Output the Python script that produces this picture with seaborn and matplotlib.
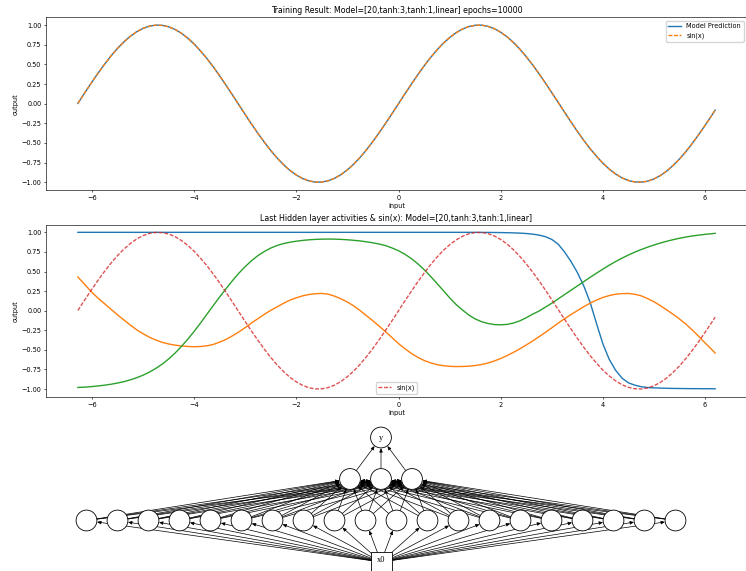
import matplotlib
matplotlib.use("Agg")
import matplotlib.pyplot as plt
import seaborn as sns
from matplotlib.patches import Circle, Rectangle

# ---------------- data ----------------
x_vals = [-6.28, -6.125, -6.0, -5.875, -5.75, -5.625, -5.5, -5.375, -5.25, -5.125,
          -5.0, -4.875, -4.75, -4.625, -4.5, -4.375, -4.25, -4.125, -4.0, -3.875,
          -3.75, -3.625, -3.5, -3.375, -3.25, -3.125, -3.0, -2.875, -2.75, -2.625,
          -2.5, -2.375, -2.25, -2.125, -2.0, -1.875, -1.75, -1.625, -1.5, -1.375,
          -1.25, -1.125, -1.0, -0.875, -0.75, -0.625, -0.5, -0.375, -0.25, -0.125,
          0.0, 0.125, 0.25, 0.375, 0.5, 0.625, 0.75, 0.875, 1.0, 1.125,
          1.25, 1.375, 1.5, 1.625, 1.75, 1.875, 2.0, 2.125, 2.25, 2.375,
          2.5, 2.625, 2.75, 2.875, 3.0, 3.125, 3.25, 3.375, 3.5, 3.625,
          3.75, 3.875, 4.0, 4.125, 4.25, 4.375, 4.5, 4.625, 4.75, 4.875,
          5.0, 5.125, 5.25, 5.375, 5.5, 5.625, 5.75, 5.875, 6.0, 6.125,
          6.2]

sin_vals = [0.003, 0.158, 0.279, 0.397, 0.508, 0.612, 0.706, 0.788, 0.859, 0.916,
            0.959, 0.987, 0.999, 0.996, 0.978, 0.944, 0.895, 0.832, 0.757, 0.668,
            0.572, 0.465, 0.351, 0.231, 0.108, -0.017, -0.141, -0.264, -0.382, -0.494,
            -0.598, -0.694, -0.778, -0.851, -0.909, -0.954, -0.984, -0.999, -0.997, -0.981,
            -0.949, -0.902, -0.841, -0.768, -0.682, -0.585, -0.479, -0.366, -0.247, -0.125,
            0.000, 0.125, 0.247, 0.366, 0.479, 0.585, 0.682, 0.768, 0.841, 0.902,
            0.949, 0.981, 0.997, 0.999, 0.984, 0.954, 0.909, 0.851, 0.778, 0.694,
            0.598, 0.494, 0.382, 0.264, 0.141, 0.017, -0.108, -0.231, -0.351, -0.465,
            -0.572, -0.668, -0.757, -0.832, -0.895, -0.944, -0.978, -0.996, -0.999, -0.987,
            -0.959, -0.916, -0.859, -0.788, -0.706, -0.612, -0.508, -0.397, -0.279, -0.158,
            -0.083]

prediction = [0.003, 0.158, 0.279, 0.397, 0.508, 0.612, 0.706, 0.788, 0.859, 0.916,
              0.959, 0.987, 0.999, 0.996, 0.978, 0.944, 0.895, 0.832, 0.757, 0.668,
              0.572, 0.465, 0.351, 0.231, 0.108, -0.017, -0.141, -0.264, -0.382, -0.494,
              -0.598, -0.694, -0.778, -0.851, -0.909, -0.954, -0.984, -0.999, -0.997, -0.981,
              -0.949, -0.902, -0.841, -0.768, -0.682, -0.585, -0.479, -0.366, -0.247, -0.125,
              0.000, 0.125, 0.247, 0.366, 0.479, 0.585, 0.682, 0.768, 0.841, 0.902,
              0.949, 0.981, 0.997, 0.999, 0.984, 0.954, 0.909, 0.851, 0.778, 0.694,
              0.598, 0.494, 0.382, 0.264, 0.141, 0.017, -0.108, -0.231, -0.351, -0.465,
              -0.572, -0.668, -0.757, -0.832, -0.895, -0.944, -0.978, -0.996, -0.999, -0.987,
              -0.959, -0.916, -0.859, -0.788, -0.706, -0.612, -0.508, -0.397, -0.279, -0.158,
              -0.083]

hidden_1 = [1.0, 1.0, 1.0, 1.0, 1.0, 1.0, 1.0, 1.0, 1.0, 1.0,
            1.0, 1.0, 1.0, 1.0, 1.0, 1.0, 1.0, 1.0, 1.0, 1.0,
            1.0, 1.0, 1.0, 1.0, 1.0, 1.0, 1.0, 1.0, 1.0, 1.0,
            1.0, 1.0, 1.0, 1.0, 1.0, 1.0, 1.0, 1.0, 1.0, 1.0,
            1.0, 1.0, 1.0, 1.0, 1.0, 1.0, 1.0, 1.0, 1.0, 1.0,
            1.0, 1.0, 1.0, 1.0, 1.0, 1.0, 1.0, 1.0, 1.0, 1.0,
            1.0, 1.0, 1.0, 0.999, 0.999, 0.998, 0.997, 0.995, 0.993, 0.990,
            0.985, 0.977, 0.965, 0.945, 0.91, 0.85, 0.75, 0.63, 0.49, 0.32,
            0.11, -0.16, -0.42, -0.62, -0.76, -0.86, -0.92, -0.95, -0.97, -0.98,
            -0.985, -0.988, -0.99, -0.992, -0.993, -0.994, -0.995, -0.995, -0.996, -0.996,
            -0.997]

hidden_2 = [0.43, 0.32, 0.23, 0.155, 0.085, 0.015, -0.055, -0.12, -0.185, -0.245,
            -0.295, -0.34, -0.375, -0.405, -0.425, -0.44, -0.45, -0.457, -0.46, -0.457,
            -0.448, -0.43, -0.40, -0.365, -0.32, -0.27, -0.215, -0.155, -0.10, -0.045,
            0.005, 0.05, 0.095, 0.135, 0.165, 0.19, 0.207, 0.217, 0.22, 0.21,
            0.185, 0.15, 0.11, 0.06, 0.0, -0.065, -0.13, -0.2, -0.27, -0.345,
            -0.42, -0.485, -0.545, -0.595, -0.635, -0.665, -0.688, -0.702, -0.71, -0.713,
            -0.712, -0.708, -0.70, -0.687, -0.668, -0.642, -0.61, -0.573, -0.532, -0.487,
            -0.438, -0.387, -0.333, -0.277, -0.219, -0.16, -0.103, -0.05, 0.0, 0.05,
            0.095, 0.135, 0.168, 0.193, 0.21, 0.218, 0.22, 0.21, 0.19, 0.155,
            0.115, 0.065, 0.01, -0.045, -0.105, -0.17, -0.245, -0.325, -0.41, -0.49,
            -0.54]

hidden_3 = [-0.98, -0.975, -0.968, -0.96, -0.95, -0.938, -0.923, -0.905, -0.882, -0.855,
            -0.822, -0.782, -0.735, -0.68, -0.615, -0.54, -0.455, -0.362, -0.262, -0.155,
            -0.043, 0.068, 0.178, 0.283, 0.385, 0.48, 0.565, 0.64, 0.705, 0.757,
            0.80, 0.833, 0.857, 0.874, 0.887, 0.897, 0.905, 0.91, 0.913, 0.914,
            0.913, 0.91, 0.905, 0.898, 0.89, 0.879, 0.866, 0.85, 0.83, 0.80,
            0.765, 0.72, 0.665, 0.60, 0.525, 0.44, 0.35, 0.258, 0.165, 0.08,
            0.01, -0.055, -0.105, -0.14, -0.163, -0.177, -0.18, -0.175, -0.158, -0.13,
            -0.09, -0.045, -0.005, 0.045, 0.095, 0.15, 0.205, 0.26, 0.315, 0.37,
            0.425, 0.478, 0.53, 0.58, 0.627, 0.67, 0.71, 0.747, 0.78, 0.81,
            0.838, 0.863, 0.886, 0.906, 0.924, 0.94, 0.953, 0.964, 0.974, 0.982,
            0.987]

title_top = "Training Result: Model=[20,tanh:3,tanh:1,linear] epochs=10000"
title_mid = "Last Hidden layer activities & sin(x): Model=[20,tanh:3,tanh:1,linear]"

layer_sizes = [1, 20, 3, 1]
input_label = "x0"
output_label = "y"

# ---------------- style ----------------
plt.rcParams.update({
    "font.family": ["DejaVu Sans"],
    "font.size": 4.7,
    "axes.titlesize": 5.7,
    "axes.labelsize": 4.7,
    "xtick.labelsize": 4.7,
    "ytick.labelsize": 4.7,
    "legend.fontsize": 4.7,
    "axes.linewidth": 0.45,
    "xtick.major.size": 1.7,
    "ytick.major.size": 1.7,
    "xtick.major.width": 0.45,
    "ytick.major.width": 0.45,
    "xtick.major.pad": 1.7,
    "ytick.major.pad": 1.7,
    "axes.titlepad": 2.8,
    "axes.labelpad": 1.9,
    "legend.borderaxespad": 0.5,
    "legend.frameon": True,
    "lines.dashed_pattern": [2.8, 1.2],
})

W, H = 746, 571
fig = plt.figure(figsize=(W / 100, H / 100), dpi=100)

ax1 = fig.add_axes([46 / W, 1 - 190 / H, 701 / W, 172.7 / H])
ax2 = fig.add_axes([46 / W, 1 - 396.8 / H, 701 / W, 172.3 / H])

lw = 1.0
blue, orange, green, red = "#1f77b4", "#ff7f0e", "#2ca02c", "#d62728"

# top panel
sns.lineplot(x=x_vals, y=prediction, ax=ax1, color=blue, linewidth=lw,
             label="Model Prediction")
sns.lineplot(x=x_vals, y=sin_vals, ax=ax1, color=orange, linewidth=lw,
             linestyle="--", label="sin(x)")
ax1.legend(loc="upper right")
ax1.set_title(title_top)
ax1.set_xlabel("input")
ax1.set_ylabel("output")

# middle panel
for vals, col in [(hidden_1, blue), (hidden_2, orange), (hidden_3, green)]:
    sns.lineplot(x=x_vals, y=vals, ax=ax2, color=col, linewidth=lw, legend=False)
sns.lineplot(x=x_vals, y=sin_vals, ax=ax2, color=red, linewidth=lw, alpha=0.8,
             linestyle="--", label="sin(x)")
ax2.legend(loc="lower center")
ax2.set_title(title_mid)
ax2.set_xlabel("input")
ax2.set_ylabel("output")

# ---------------- network diagram ----------------
ax3 = fig.add_axes([0, 0, 1, 151 / H])
ax3.set_xlim(0, W)
ax3.set_ylim(H, 420)
ax3.axis("off")

center_x = 381.0
spacing = 31.0
y_input = 562.0
dy = 41.5
radius = 10.4

positions = []
for k, n in enumerate(layer_sizes):
    positions.append([(center_x + spacing * (i - (n - 1) / 2), y_input - dy * k)
                      for i in range(n)])

for k in range(len(layer_sizes) - 1):
    for a in positions[k]:
        for b in positions[k + 1]:
            ax3.annotate("", xy=b, xytext=a,
                         arrowprops=dict(arrowstyle="-|>,head_length=0.5,head_width=0.22",
                                         color="black", lw=0.5, shrinkA=0,
                                         shrinkB=radius * 0.72 + 0.2,
                                         mutation_scale=4.5),
                         zorder=1)

serif = ["Liberation Serif", "DejaVu Serif"]
for k, layer in enumerate(positions):
    for (px, py) in layer:
        if k == 0:
            ax3.add_patch(Rectangle((px - 10.5, py - 10.5), 21, 21, fc="white",
                                    ec="black", lw=0.6, zorder=3))
            ax3.text(px, py - 2, input_label, ha="center", va="center",
                     fontsize=6, family=serif, zorder=4)
        else:
            ax3.add_patch(Circle((px, py), radius, fc="white", ec="black",
                                 lw=0.6, zorder=3))
            if k == len(layer_sizes) - 1:
                ax3.text(px, py, output_label, ha="center", va="center",
                         fontsize=6, family=serif, zorder=4)

fig.savefig("out.png", dpi=100)
